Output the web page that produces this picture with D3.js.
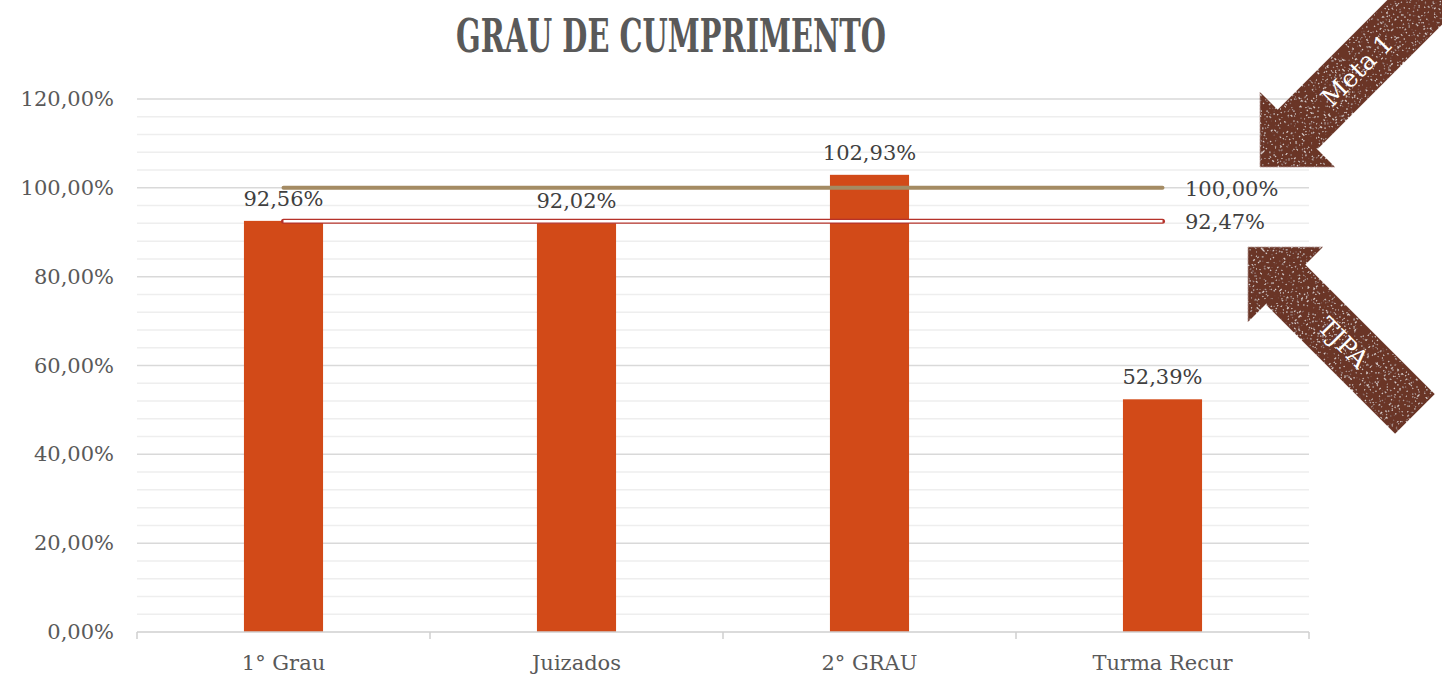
<!DOCTYPE html>
<html>
<head>
<meta charset="utf-8">
<script src="https://cdn.jsdelivr.net/npm/d3@7"></script>
<style>
  body { margin: 0; background: #fff; }
  text { font-family: "DejaVu Serif", serif; fill: #595959; }
</style>
</head>
<body>
<script>
// chart data
var categories = ["1° Grau", "Juizados", "2° GRAU", "Turma Recur"];
var cumprimento = [0.9256, 0.9202, 1.0293, 0.5239];
var metaValue = 1.0;      // Meta 1
var tjpaValue = 0.9247;   // TJPA
var yTicks = [0, 0.2, 0.4, 0.6, 0.8, 1.0, 1.2];

var w = 1442, h = 675;
var fmt = function(v){ return (v * 100).toFixed(2).replace(".", ",") + "%"; };

var svg = d3.select("body").append("svg")
    .attr("width", w).attr("height", h)
    .attr("class", "container");

// grunge texture for the arrows
var defs = svg.append("defs");
var f = defs.append("filter").attr("id", "grunge")
    .attr("x", "-10%").attr("y", "-10%").attr("width", "120%").attr("height", "120%");
f.append("feTurbulence").attr("type", "fractalNoise").attr("baseFrequency", 0.55)
    .attr("numOctaves", 2).attr("seed", 7).attr("result", "noise");
f.append("feColorMatrix").attr("in", "noise").attr("type", "matrix")
    .attr("values", "0 0 0 0 0.80  0 0 0 0 0.68  0 0 0 0 0.64  16 0 0 0 -10.6")
    .attr("result", "spots");
f.append("feComposite").attr("in", "spots").attr("in2", "SourceGraphic")
    .attr("operator", "in").attr("result", "spotsIn");
var merge = f.append("feMerge");
merge.append("feMergeNode").attr("in", "SourceGraphic");
merge.append("feMergeNode").attr("in", "spotsIn");

var x = d3.scaleBand().domain(categories).range([137, 1309]).paddingInner(0).paddingOuter(0);
var y = d3.scaleLinear().domain([0, 1.2]).range([632, 99]);

// minor gridlines every 4%
var minor = d3.range(0, 1.2001, 0.04).filter(function(v){ return Math.abs(Math.round(v * 5) - v * 5) > 1e-6; });
svg.append("g").attr("class", "minorGrid").selectAll("line")
    .data(minor).enter().append("line")
    .attr("x1", 137).attr("x2", 1309)
    .attr("y1", function(d){ return y(d); }).attr("y2", function(d){ return y(d); })
    .style("stroke", "#eeeeee").style("stroke-width", 1.5);

// major gridlines
svg.append("g").attr("class", "majorGrid").selectAll("line")
    .data(yTicks.slice(1)).enter().append("line")
    .attr("x1", 137).attr("x2", 1309)
    .attr("y1", function(d){ return y(d); }).attr("y2", function(d){ return y(d); })
    .style("stroke", "#d9d9d9").style("stroke-width", 1.5);

// y labels
svg.append("g").attr("class", "yLabels").selectAll("text")
    .data(yTicks).enter().append("text")
    .attr("x", 114).attr("y", function(d){ return y(d) + 7; })
    .attr("text-anchor", "end")
    .style("font-size", "21px")
    .text(fmt);

// bars
svg.append("g").attr("class", "bars").selectAll("rect")
    .data(cumprimento).enter().append("rect")
    .attr("x", function(d, i){ return x(categories[i]) + x.bandwidth() * 0.365; })
    .attr("width", x.bandwidth() * 0.27)
    .attr("y", function(d){ return y(d); })
    .attr("height", function(d){ return y(0) - y(d); })
    .style("fill", "#D24A18");

// bar labels
svg.append("g").attr("class", "barLabels").selectAll("text")
    .data(cumprimento).enter().append("text")
    .attr("x", function(d, i){ return x(categories[i]) + x.bandwidth() / 2; })
    .attr("y", function(d){ return y(d) - 15; })
    .attr("text-anchor", "middle")
    .style("font-size", "21px").style("fill", "#404040")
    .text(fmt);

// x axis baseline and ticks
var axis = svg.append("g").attr("class", "xAxis");
axis.append("line").attr("x1", 137).attr("x2", 1309).attr("y1", y(0)).attr("y2", y(0))
    .style("stroke", "#cfcfcf").style("stroke-width", 1.5);
var edges = categories.map(function(c){ return x(c); }).concat([x.range()[1]]);
axis.selectAll("line.tick").data(edges).enter().append("line").attr("class", "tick")
    .attr("x1", function(d){ return d; }).attr("x2", function(d){ return d; })
    .attr("y1", y(0)).attr("y2", y(0) + 7)
    .style("stroke", "#cfcfcf").style("stroke-width", 1.5);
axis.selectAll("text").data(categories).enter().append("text")
    .attr("x", function(d){ return x(d) + x.bandwidth() / 2; })
    .attr("y", 670)
    .attr("text-anchor", "middle")
    .style("font-size", "21px")
    .text(function(d){ return d; });

// reference lines
var lx1 = x(categories[0]) + x.bandwidth() / 2;
var lx2 = x(categories[categories.length - 1]) + x.bandwidth() / 2;
svg.append("line").attr("x1", lx1).attr("x2", lx2).attr("y1", y(tjpaValue)).attr("y2", y(tjpaValue))
    .style("stroke", "#B5322A").style("stroke-width", 5).style("stroke-linecap", "round");
svg.append("line").attr("x1", lx1).attr("x2", lx2).attr("y1", y(tjpaValue)).attr("y2", y(tjpaValue))
    .style("stroke", "#ffffff").style("stroke-width", 2.4);
svg.append("line").attr("x1", lx1).attr("x2", lx2).attr("y1", y(metaValue)).attr("y2", y(metaValue))
    .style("stroke", "#A48B63").style("stroke-width", 4).style("stroke-linecap", "round");

svg.append("text").attr("x", 1185).attr("y", y(metaValue) + 8)
    .style("font-size", "21px").style("fill", "#404040").text(fmt(metaValue));
svg.append("text").attr("x", 1185).attr("y", y(tjpaValue) + 8)
    .style("font-size", "21px").style("fill", "#404040").text(fmt(tjpaValue));

// title
svg.append("text").attr("x", 671).attr("y", 52)
    .attr("text-anchor", "middle")
    .attr("textLength", 430).attr("lengthAdjust", "spacingAndGlyphs")
    .style("font-family", "'DejaVu Serif Condensed', 'DejaVu Serif', serif")
    .style("font-weight", "bold").style("font-size", "46px").style("fill", "#595959")
    .text("GRAU DE CUMPRIMENTO");

// arrows (tip at origin, shaft running along +x)
function arrow(tx, ty, angle, len, label, labelPos){
  var g = svg.append("g").attr("transform", "translate(" + tx + "," + ty + ") rotate(" + angle + ")");
  var pts = [[0,0],[53,-53],[53,-28],[len,-28],[len,28],[53,28],[53,53]];
  g.append("path").attr("d", d3.line()(pts) + "Z")
    .style("fill", "#6A3427").attr("filter", "url(#grunge)");
  g.append("text").attr("x", labelPos).attr("y", 9)
    .attr("text-anchor", "middle")
    .style("font-size", "25px").style("fill", "#ffffff")
    .text(label);
}
arrow(1260, 167, -45, 320, "Meta 1", 137);
arrow(1248, 247, 45, 236, "TJPA", 135);
</script>
</body>
</html>
